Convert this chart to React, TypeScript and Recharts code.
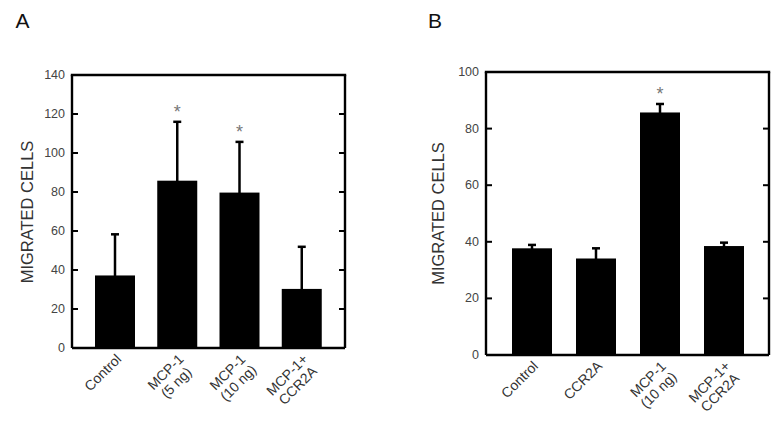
import React from 'react';
import { BarChart, Bar, XAxis, YAxis, ErrorBar } from 'recharts';

const categoriesA = ['Control', 'MCP-1\n(5 ng)', 'MCP-1\n(10 ng)', 'MCP-1+\nCCR2A'];
const meansA = [37.2, 85.8, 79.7, 30.3];
const semA = [21.1, 30.2, 26, 21.6];
const sigA = ['', '*', '*', ''];
const ticksA = [0, 20, 40, 60, 80, 100, 120, 140];

const categoriesB = ['Control', 'CCR2A', 'MCP-1\n(10 ng)', 'MCP-1+\nCCR2A'];
const meansB = [37.7, 34.1, 85.7, 38.5];
const semB = [1.2, 3.6, 3.0, 1.2];
const sigB = ['', '', '*', ''];
const ticksB = [0, 20, 40, 60, 80, 100];

const FONT = "'Liberation Sans', Arial, Helvetica, sans-serif";
const FRAME_W = 2.4;

let ctx: CanvasRenderingContext2D | null = null;
function measure(t: string, size: number): number {
  if (!ctx) ctx = document.createElement('canvas').getContext('2d');
  if (!ctx) return t.length * size * 0.55;
  ctx.font = `${size}px ${FONT}`;
  return ctx.measureText(t).width;
}

// lower error extent kept just inside the bar so only the upper whisker shows
const build = (cats: string[], means: number[], sems: number[], sigs: string[]) =>
  cats.map((c, i) => ({ cat: c, mean: means[i], err: [1.5, sems[i]], sem: sems[i], sig: sigs[i] }));

const dataA = build(categoriesA, meansA, semA, sigA);
const dataB = build(categoriesB, meansB, semB, sigB);

const makeYTick = (plotW: number, plotH: number, max: number) => (props: any) => {
  const { x, y, payload } = props;
  const isTop = payload.value === max;
  return (
    <g>
      <line x1={x} x2={x + 6} y1={y} y2={y} stroke="#000" strokeWidth={2} />
      <line x1={x + plotW - 6} x2={x + plotW} y1={y} y2={y} stroke="#000" strokeWidth={2} />
      {isTop ? (
        <g>
          <line x1={x - FRAME_W / 2} x2={x + plotW + FRAME_W / 2} y1={y} y2={y} stroke="#000" strokeWidth={FRAME_W} />
          <line x1={x + plotW} x2={x + plotW} y1={y} y2={y + plotH} stroke="#000" strokeWidth={FRAME_W} />
        </g>
      ) : null}
      <text x={x - 7} y={y} textAnchor="end" dominantBaseline="central" fontSize={12.5} fill="#444" fontFamily={FONT}>
        {payload.value}
      </text>
    </g>
  );
};

const XTick = (props: any) => {
  const { x, y, payload } = props;
  const lines = String(payload.value).split('\n');
  const size = 14;
  const w = Math.max(...lines.map((l) => measure(l, size)));
  return (
    <g transform={`translate(${x + 7},${y + 12}) rotate(-45)`}>
      {lines.map((l, i) => (
        <text key={i} x={-w / 2} y={i * 15} textAnchor="middle" fontSize={size} fill="#333" fontFamily={FONT}>
          {l}
        </text>
      ))}
    </g>
  );
};

const BarShape = (props: any) => {
  const { x, y, width, height, payload } = props;
  const ppu = payload.mean ? height / payload.mean : 0;
  const top = y - payload.sem * ppu;
  return (
    <g>
      <rect x={x} y={y} width={width} height={height} fill="#000" />
      {payload.sig ? (
        <text x={x + width / 2} y={top - 10} textAnchor="middle" dominantBaseline="central" fontSize={18} fill="#777" fontFamily={FONT}>
          {payload.sig}
        </text>
      ) : null}
    </g>
  );
};

type PanelProps = {
  data: any[];
  ticks: number[];
  max: number;
  margin: { top: number; left: number; right: number; bottom: number };
  xHeight: number;
  padding: { left: number; right: number };
};

function Panel({ data, ticks, max, margin, xHeight, padding }: PanelProps) {
  const plotW = 391 - margin.left - 40 - margin.right;
  const plotH = 429 - margin.top - xHeight - margin.bottom;
  const axisLine = { stroke: '#000', strokeWidth: FRAME_W };
  return (
    <BarChart width={391} height={429} data={data} margin={margin} barSize={40}>
      <XAxis
        dataKey="cat"
        height={xHeight}
        interval={0}
        tickSize={0}
        tickMargin={0}
        tickLine={false}
        axisLine={axisLine}
        tick={XTick}
        padding={padding}
      />
      <YAxis
        yAxisId="l"
        domain={[0, max]}
        ticks={ticks}
        width={40}
        axisLine={axisLine}
        tickLine={false}
        tickSize={0}
        tickMargin={0}
        tick={makeYTick(plotW, plotH, max)}
        interval={0}
      />
      <Bar yAxisId="l" dataKey="mean" fill="#000" isAnimationActive={false} shape={BarShape}>
        <ErrorBar dataKey="err" direction="y" width={4} stroke="#000" strokeWidth={2.5} isAnimationActive={false} />
      </Bar>
    </BarChart>
  );
}

export default function App() {
  return (
    <div style={{ position: 'absolute', left: 0, top: 0, width: 782, height: 429, background: '#fff' }}>
      <div style={{ position: 'absolute', left: 0, top: 0 }}>
        <Panel
          data={dataA}
          ticks={ticksA}
          max={140}
          margin={{ top: 75, left: 32, right: 46, bottom: 0 }}
          xHeight={81}
          padding={{ left: 12, right: 12 }}
        />
      </div>
      <div style={{ position: 'absolute', left: 391, top: 0 }}>
        <Panel
          data={dataB}
          ticks={ticksB}
          max={100}
          margin={{ top: 72, left: 55, right: 13, bottom: 0 }}
          xHeight={74}
          padding={{ left: 14, right: 13 }}
        />
      </div>
      <svg width={782} height={429} style={{ position: 'absolute', left: 0, top: 0, pointerEvents: 'none' }}>
        <text x={15.5} y={28} fontSize={21} fill="#111" fontFamily={FONT}>A</text>
        <text x={428} y={28} fontSize={21} fill="#111" fontFamily={FONT}>B</text>
        <text transform="translate(32.5,212) rotate(-90)" textAnchor="middle" fontSize={16.5} fill="#333" fontFamily={FONT}>
          MIGRATED CELLS
        </text>
        <text transform="translate(443.5,213.5) rotate(-90)" textAnchor="middle" fontSize={16.5} fill="#333" fontFamily={FONT}>
          MIGRATED CELLS
        </text>
      </svg>
    </div>
  );
}
